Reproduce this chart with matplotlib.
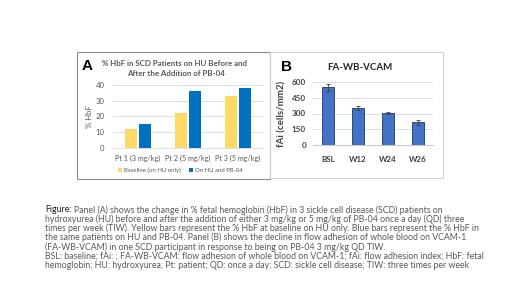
import matplotlib
matplotlib.use("Agg")
import matplotlib.pyplot as plt
import numpy as np
from matplotlib.patches import Rectangle

# ---- data ----
a_categories = ["Pt 1 (3 mg/kg)", "Pt 2 (5 mg/kg)", "Pt 3 (5 mg/kg)"]
a_baseline = [12, 22, 33]
a_on_pb04 = [15, 36, 38]
a_series = ["Baseline (on HU only)", "On HU and PB-04"]
a_yticks = [0, 10, 20, 30, 40]

b_categories = ["BSL", "W12", "W24", "W26"]
b_values = [550, 355, 305, 215]
b_errors = [32, 20, 12, 20]
b_yticks = [0, 150, 300, 450, 600]

caption_lines = [
    "Panel (A) shows the change in % fetal hemoglobin (HbF) in 3 sickle cell disease (SCD) patients on",
    "hydroxyurea (HU) before and after the addition of either 3 mg/kg or 5 mg/kg of PB-04 once a day (QD) three",
    "times per week (TIW). Yellow bars represent the % HbF at baseline on HU only. Blue bars represent the % HbF in",
    "the same patients on HU and PB-04. Panel (B) shows the decline in flow adhesion of whole blood on VCAM-1",
    "(FA-WB-VCAM) in one SCD participant in response to being on PB-04 3 mg/kg QD TIW.",
    "BSL: baseline; fAi: ; FA-WB-VCAM: flow adhesion of whole blood on VCAM-1; fAi: flow adhesion index; HbF: fetal",
    "hemoglobin; HU: hydroxyurea; Pt: patient; QD: once a day; SCD: sickle cell disease; TIW: three times per week",
]

W, H = 520, 292
plt.rcParams['font.family'] = ['Lato', 'DejaVu Sans']
fig = plt.figure(figsize=(W / 100, H / 100), dpi=100)
fig.patch.set_facecolor("white")


def fx(x):
    return x / W


def fy(y):
    return 1 - y / H


# panel frames
fig.patches.append(Rectangle((fx(77), fy(179)), fx(270) - fx(77), fy(52) - fy(179),
                             transform=fig.transFigure, fill=False,
                             edgecolor="#8c8c8c", linewidth=0.8))
fig.patches.append(Rectangle((fx(270), fy(178)), fx(443) - fx(270), fy(52) - fy(178),
                             transform=fig.transFigure, fill=False,
                             edgecolor="#d0d0d0", linewidth=0.7))

# ---- Panel A ----
axA = fig.add_axes([fx(113), fy(148), fx(263) - fx(113), fy(85) - fy(148)])
x = np.arange(len(a_categories))
bw = 0.24
axA.bar(x - 0.14, a_baseline, width=bw, color="#FFD966", label=a_series[0], zorder=3)
axA.bar(x + 0.14, a_on_pb04, width=bw, color="#0070C0", label=a_series[1], zorder=3)
axA.set_ylim(0, 40)
axA.set_xlim(-0.5, 2.5)
axA.set_yticks(a_yticks)
axA.set_xticks(x)
axA.set_xticklabels(a_categories, fontsize=5.2, color="#595959")
axA.tick_params(axis='y', labelsize=5.6, colors="#595959", length=0, pad=6)
axA.tick_params(axis='x', length=0, pad=5)
axA.grid(axis='y', color="#d9d9d9", linewidth=0.6, zorder=0)
for s in ["top", "right", "left"]:
    axA.spines[s].set_visible(False)
axA.spines["bottom"].set_color("#d9d9d9")
axA.spines["bottom"].set_linewidth(0.6)
axA.set_ylabel("% HbF", fontsize=5.6, color="#595959", labelpad=2)
leg = axA.legend(loc="center", bbox_to_anchor=(0.45, -0.355), ncol=2, frameon=False,
                 fontsize=4.3, handlelength=0.6, handleheight=0.6, handletextpad=0.4,
                 columnspacing=1.4, labelcolor="#595959")

fig.text(fx(174), fy(63), "% HbF in SCD Patients on HU Before and", ha="center", va="center",
         fontsize=5.7, fontweight="bold", color="#595959")
fig.text(fx(176), fy(73.5), "After the Addition of PB-04", ha="center", va="center",
         fontsize=5.7, fontweight="bold", color="#595959")
fig.text(fx(87), fy(66), "A", ha="center", va="center", fontsize=11, fontweight="bold",
         color="black", family=["Liberation Sans", "DejaVu Sans"])

# ---- Panel B ----
axB = fig.add_axes([fx(313), fy(145), fx(433) - fx(313), fy(82) - fy(145)])
xb = np.arange(len(b_categories))
axB.bar(xb, b_values, width=0.4, color="#4472C4", edgecolor="#1f3864", linewidth=0.6,
        yerr=b_errors, error_kw=dict(ecolor="#404040", elinewidth=0.6, capsize=1.5, capthick=0.6),
        zorder=3)
axB.set_ylim(0, 600)
axB.set_xlim(-0.5, 3.5)
axB.set_yticks(b_yticks)
axB.set_xticks(xb)
axB.set_xticklabels(b_categories, fontsize=5.8, fontweight="bold", color="#404040")
axB.tick_params(axis='y', labelsize=5.8, colors="#404040", length=0, pad=5)
axB.tick_params(axis='x', length=0, pad=8)
for lbl in axB.get_yticklabels():
    lbl.set_fontweight("bold")
axB.grid(axis='y', color="#d9d9d9", linewidth=0.6, zorder=0)
for s in ["top", "right", "left"]:
    axB.spines[s].set_visible(False)
axB.spines["bottom"].set_color("#bfbfbf")
axB.spines["bottom"].set_linewidth(0.6)
axB.set_ylabel("fAi (cells/mm2)", fontsize=7, fontweight="bold", color="#404040", labelpad=4)
fig.text(fx(360), fy(67), "FA-WB-VCAM", ha="center", va="center", fontsize=7,
         fontweight="bold", color="#262626")
fig.text(fx(286), fy(67), "B", ha="center", va="center", fontsize=11, fontweight="bold",
         color="black", family=["Liberation Sans", "DejaVu Sans"])

# ---- caption ----
y0 = 210
dy = 9.2
fs = 6.35
t = fig.text(fx(45), fy(y0), "Figure:", ha="left", va="center", fontsize=fs,
             color="#1a1a1a")
fig.canvas.draw()
bb = t.get_window_extent()
fig.text(bb.x1 / W + fx(2), fy(y0), caption_lines[0], ha="left", va="center",
         fontsize=fs, color="#595959")
for i, line in enumerate(caption_lines[1:], start=1):
    fig.text(fx(45), fy(y0 + i * dy), line, ha="left", va="center", fontsize=fs,
             color="#595959")

fig.savefig("out.png", dpi=100, facecolor="white")
